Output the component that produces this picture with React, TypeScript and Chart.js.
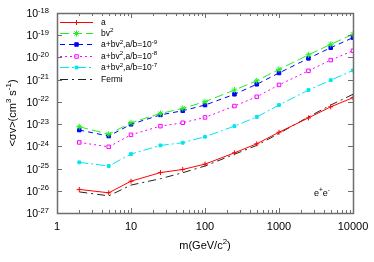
import React, { useEffect, useRef } from 'react';
import { Chart, registerables } from 'chart.js';
import { drawPoint } from 'chart.js/helpers';

Chart.register(...registerables);

// ---- data ----
const masses = [2, 5, 10, 25, 50, 100, 250, 500, 1000, 2500, 5000, 10000];
const sigmaA = [1.15e-26, 8.1e-27, 2.7e-26, 6.6e-26, 9.1e-26, 1.58e-25, 5.1e-25, 1.3e-24, 4.3e-24, 1.9e-23, 6.0e-23, 1.55e-22];
const sigmaBv2 = [7.6e-24, 3.5e-24, 1.15e-23, 3.0e-23, 5.1e-23, 1.02e-22, 3.4e-22, 8.9e-22, 2.9e-21, 1.3e-20, 3.9e-20, 1.1e-19];
const sigmaAb9 = [5.4e-24, 2.9e-24, 9.8e-24, 2.6e-23, 4.0e-23, 7.2e-23, 2.2e-22, 6.2e-22, 2.0e-21, 9.1e-21, 2.75e-20, 7.8e-20];
const sigmaAb8 = [1.5e-24, 9.5e-25, 3.3e-24, 8.1e-24, 1.15e-23, 2.0e-23, 6.5e-23, 1.7e-22, 5.8e-22, 2.5e-21, 7.6e-21, 2.0e-20];
const sigmaAb7 = [1.9e-25, 1.3e-25, 4.5e-25, 1.1e-24, 1.45e-24, 2.7e-24, 8.1e-24, 2.1e-23, 7.2e-23, 3.4e-22, 9.5e-22, 2.6e-21];
const sigmaFermi = [8.9e-27, 5.9e-27, 1.8e-26, 3.5e-26, 6.5e-26, 1.3e-25, 4.4e-25, 1.1e-24, 3.8e-24, 2.1e-23, 7.2e-23, 2.2e-22];

const xMajorTicks = [1, 10, 100, 1000, 10000];
const xTickLabels = ['1', '10', '100', '1000', '10000'];
const xMinorTicks = [2, 3, 4, 5, 6, 7, 8, 9, 20, 30, 40, 50, 60, 70, 80, 90, 200, 300, 400, 500, 600, 700, 800, 900, 2000, 3000, 4000, 5000, 6000, 7000, 8000, 9000];
const yTicks = [1e-27, 1e-26, 1e-25, 1e-24, 1e-23, 1e-22, 1e-21, 1e-20, 1e-19, 1e-18];
const yTickExponents = ['-27', '-26', '-25', '-24', '-23', '-22', '-21', '-20', '-19', '-18'];

type Part = { t: string; sup?: boolean };
const legendParts: Part[][] = [
  [{ t: 'a' }],
  [{ t: 'bv' }, { t: '2', sup: true }],
  [{ t: 'a+bv' }, { t: '2', sup: true }, { t: ',a/b=10' }, { t: '-9', sup: true }],
  [{ t: 'a+bv' }, { t: '2', sup: true }, { t: ',a/b=10' }, { t: '-8', sup: true }],
  [{ t: 'a+bv' }, { t: '2', sup: true }, { t: ',a/b=10' }, { t: '-7', sup: true }],
  [{ t: 'Fermi' }],
];

const FONT = '"Liberation Sans", Arial, Helvetica, sans-serif';

function partsWidth(ctx: CanvasRenderingContext2D, parts: Part[], size: number) {
  let w = 0;
  for (const p of parts) {
    ctx.font = `${p.sup ? size * 0.72 : size}px ${FONT}`;
    w += ctx.measureText(p.t).width;
  }
  return w;
}

function drawParts(ctx: CanvasRenderingContext2D, parts: Part[], x: number, y: number, size: number, align: 'left' | 'right' | 'center') {
  const w = partsWidth(ctx, parts, size);
  let cx = align === 'left' ? x : align === 'right' ? x - w : x - w / 2;
  ctx.textAlign = 'left';
  ctx.textBaseline = 'alphabetic';
  for (const p of parts) {
    const s = p.sup ? size * 0.72 : size;
    ctx.font = `${s}px ${FONT}`;
    ctx.fillText(p.t, cx, p.sup ? y - size * 0.42 : y);
    cx += ctx.measureText(p.t).width;
  }
}

const decorPlugin = {
  id: 'decor',
  afterDatasetsDraw(chart: any) {
    const ctx: CanvasRenderingContext2D = chart.ctx;
    const { left, right, top, bottom } = chart.chartArea;
    const xs = chart.scales.x;
    const ys = chart.scales.y;
    ctx.save();
    // frame
    ctx.strokeStyle = '#6e6e6e';
    ctx.lineWidth = 1.5;
    ctx.setLineDash([]);
    ctx.strokeRect(Math.round(left) + 0.5, Math.round(top) + 0.5, Math.round(right - left), Math.round(bottom - top));
    ctx.lineWidth = 1;
    ctx.beginPath();
    for (const v of xMajorTicks) {
      const px = Math.round(xs.getPixelForValue(v)) + 0.5;
      ctx.moveTo(px, bottom); ctx.lineTo(px, bottom - 5);
      ctx.moveTo(px, top); ctx.lineTo(px, top + 5);
    }
    for (const v of xMinorTicks) {
      const px = Math.round(xs.getPixelForValue(v)) + 0.5;
      ctx.moveTo(px, bottom); ctx.lineTo(px, bottom - 3);
      ctx.moveTo(px, top); ctx.lineTo(px, top + 3);
    }
    for (const v of yTicks) {
      const py = Math.round(ys.getPixelForValue(v)) + 0.5;
      ctx.moveTo(left, py); ctx.lineTo(left + 5, py);
      ctx.moveTo(right, py); ctx.lineTo(right - 5, py);
    }
    ctx.stroke();

    ctx.fillStyle = '#000';
    // x tick labels
    xMajorTicks.forEach((v, i) => {
      const px = xs.getPixelForValue(v);
      drawParts(ctx, [{ t: xTickLabels[i] }], px, bottom + 17, 11, 'center');
    });
    // y tick labels
    yTicks.forEach((v, i) => {
      const py = ys.getPixelForValue(v);
      drawParts(ctx, [{ t: '10' }, { t: yTickExponents[i], sup: true }], left - 8, py + 4, 10.5, 'right');
    });
    // x title
    drawParts(ctx, [{ t: 'm(GeV/c' }, { t: '2', sup: true }, { t: ')' }], (left + right) / 2, bottom + 36, 11, 'center');
    // y title
    ctx.save();
    ctx.translate(16, (top + bottom) / 2);
    ctx.rotate(-Math.PI / 2);
    drawParts(ctx, [{ t: '<σv>(cm' }, { t: '3', sup: true }, { t: ' s' }, { t: '-1', sup: true }, { t: ')' }], 0, 0, 11, 'center');
    ctx.restore();
    // annotation
    drawParts(ctx, [{ t: 'e' }, { t: '+', sup: true }, { t: 'e' }, { t: '-', sup: true }], right - 39, bottom - 17, 9, 'left');

    // legend
    chart.data.datasets.forEach((ds: any, i: number) => {
      const y = top + 8.5 + i * 11.4;
      const x0 = left + 3;
      const x1 = left + 36;
      ctx.save();
      ctx.strokeStyle = ds.borderColor;
      ctx.lineWidth = ds.borderWidth;
      ctx.setLineDash(ds.borderDash || []);
      ctx.beginPath();
      ctx.moveTo(x0, Math.round(y) + 0.5);
      ctx.lineTo(x1, Math.round(y) + 0.5);
      ctx.stroke();
      ctx.setLineDash([]);
      if (ds.pointRadius > 0) {
        ctx.strokeStyle = ds.pointBorderColor;
        ctx.fillStyle = ds.pointBackgroundColor;
        ctx.lineWidth = 1;
        drawPoint(ctx, { pointStyle: ds.pointStyle, radius: ds.pointRadius, borderWidth: 1, rotation: 0 }, (x0 + x1) / 2, Math.round(y) + 0.5);
      }
      ctx.restore();
      ctx.fillStyle = '#000';
      drawParts(ctx, legendParts[i], left + 44, y + 3, 8.5, 'left');
    });
    ctx.restore();
  },
};

function series(values: number[]) {
  return masses.map((m, i) => ({ x: m, y: values[i] }));
}

export default function App() {
  const ref = useRef<HTMLCanvasElement | null>(null);
  useEffect(() => {
    document.body.style.margin = '0';
    const canvas = ref.current!;
    const common = { borderWidth: 1, pointBorderWidth: 1, fill: false, tension: 0 };
    const chart = new Chart(canvas, {
      type: 'line',
      data: {
        datasets: [
          { ...common, label: 'a', data: series(sigmaA), borderColor: '#ff0000', pointBorderColor: '#ff0000', pointBackgroundColor: '#ff0000', pointStyle: 'cross', pointRadius: 2.5, borderDash: [] },
          { ...common, label: 'bv²', data: series(sigmaBv2), borderColor: '#22ee22', pointBorderColor: '#22ee22', pointBackgroundColor: '#22ee22', pointStyle: 'star', pointRadius: 3, borderDash: [9, 4] },
          { ...common, label: 'a+bv²,a/b=10⁻⁹', data: series(sigmaAb9), borderColor: '#0000ff', pointBorderColor: '#0000ff', pointBackgroundColor: '#0000ff', pointStyle: 'rect', pointRadius: 2.5, borderDash: [5, 4] },
          { ...common, label: 'a+bv²,a/b=10⁻⁸', data: series(sigmaAb8), borderColor: '#ff00ff', pointBorderColor: '#ff00ff', pointBackgroundColor: 'rgba(255,255,255,0.6)', pointStyle: 'rect', pointRadius: 2.5, borderDash: [2, 3] },
          { ...common, label: 'a+bv²,a/b=10⁻⁷', data: series(sigmaAb7), borderColor: '#00e5ee', pointBorderColor: '#00e5ee', pointBackgroundColor: '#00e5ee', pointStyle: 'rect', pointRadius: 2, borderDash: [9, 3, 2, 3] },
          { ...common, label: 'Fermi', data: series(sigmaFermi), borderColor: '#222222', pointBorderColor: '#222222', pointBackgroundColor: '#222222', pointStyle: 'circle', pointRadius: 0, borderDash: [8, 4, 2, 4] },
        ],
      },
      options: {
        animation: false,
        responsive: false,
        maintainAspectRatio: false,
        layout: { padding: { left: 57, top: 13, right: 21, bottom: 49 } },
        plugins: { legend: { display: false }, tooltip: { enabled: false } },
        scales: {
          x: { type: 'logarithmic', min: 1, max: 10000, display: false },
          y: { type: 'logarithmic', min: 1e-27, max: 1e-18, display: false },
        },
      },
      plugins: [decorPlugin],
    } as any);
    return () => chart.destroy();
  }, []);
  return (
    <div style={{ width: 374, height: 262, background: '#fff' }}>
      <canvas ref={ref} width={374} height={262} style={{ width: 374, height: 262, display: 'block' }} />
    </div>
  );
}
